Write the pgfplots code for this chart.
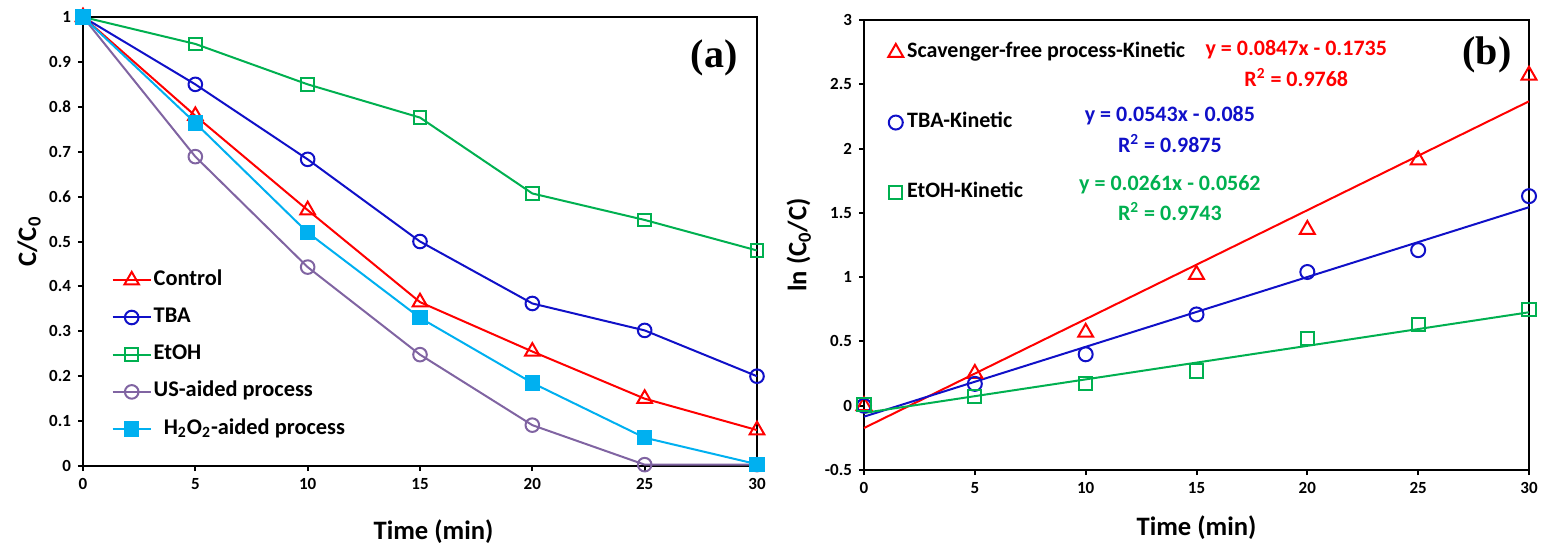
\documentclass[border=0pt]{standalone}
\usepackage{fontspec}
\setmainfont{Carlito}
\newfontfamily\timesb{Liberation Serif}
\usepackage{pgfplots}
\pgfplotsset{compat=1.18}
\definecolor{cred}{RGB}{255,0,0}
\definecolor{cblue}{RGB}{16,16,200}
\definecolor{cgreen}{RGB}{0,176,80}
\definecolor{cpurple}{RGB}{128,100,162}
\definecolor{ccyan}{RGB}{0,176,240}

\pgfplotsset{
  common/.style={
    scale only axis,
    axis line style={line width=1.2pt},
    tick style={line width=1pt,black},
    major tick length=2.5pt,
    tick align=outside,
    xtick pos=left, ytick pos=left,
    xmin=0, xmax=30,
    xtick={0,5,...,30},
    /pgf/number format/assume math mode=true,
    ticklabel style={font=\bfseries\fontsize{8.5}{10}\selectfont},
    label style={font=\bfseries\fontsize{13.3}{15}\selectfont},
    clip=false,
  }
}

\begin{document}
\begin{tikzpicture}
\useasboundingbox (0,0) rectangle (770.5pt,274pt);

% ---- panel (a)
\begin{axis}[common,
  at={(41.5pt,41pt)}, anchor=south west,
  width=337pt, height=224.5pt,
  ymin=0, ymax=1,
  ytick={0,0.1,...,1.01},
  xlabel={Time (min)},
  ylabel={C/C\textsubscript{0}},
  xlabel style={at={(axis description cs:0.52,0)}, anchor=center, yshift=-33pt},
  ylabel style={at={(axis description cs:-0.08,0.5)}, anchor=center},
  legend style={at={(axis description cs:0.042,0.439)}, anchor=north west,
    draw=none, fill=none, inner sep=0pt, row sep=7.6pt, column sep=1pt,
    nodes={inner sep=0pt, text height=8pt, text depth=3pt},
    font=\bfseries\fontsize{11.2}{13}\selectfont},
  legend cell align=left,
  legend image code/.code={\draw[mark repeat=2,mark phase=2,#1]
    plot coordinates {(0pt,0pt) (9.5pt,0pt) (19pt,0pt)};},
  every axis plot/.append style={line width=1pt},
]
\addplot[cred, mark=triangle, mark size=4.2pt, mark options={fill=white,line width=1pt}]
  coordinates {(0,1) (5,0.78) (10,0.57) (15,0.365) (20,0.255) (25,0.15) (30,0.08)};
\addlegendentry{Control}
\addplot[cblue, mark=o, mark size=3.4pt, mark options={fill=white,line width=1pt}]
  coordinates {(0,1) (5,0.85) (10,0.683) (15,0.5) (20,0.362) (25,0.302) (30,0.2)};
\addlegendentry{TBA}
\addplot[cgreen, mark=square, mark size=3.2pt, mark options={fill=white,line width=1pt}]
  coordinates {(0,1) (5,0.94) (10,0.85) (15,0.776) (20,0.607) (25,0.548) (30,0.48)};
\addlegendentry{EtOH}
\addplot[cpurple, mark=o, mark size=3.4pt, mark options={fill=white,line width=1pt}]
  coordinates {(0,1) (5,0.689) (10,0.443) (15,0.248) (20,0.091) (25,0.003) (30,0.003)};
\addlegendentry{US-aided process}
\addplot[ccyan, mark=square*, mark size=3.3pt, mark options={fill=ccyan}]
  coordinates {(0,1) (5,0.764) (10,0.52) (15,0.33) (20,0.185) (25,0.063) (30,0.004)};
\addlegendentry{\ \ H\textsubscript{2}O\textsubscript{2}-aided process}
\node[font=\timesb\bfseries\fontsize{20}{22}\selectfont] at (axis cs:28.1,0.909) {(a)};
\end{axis}

% ---- panel (b)
\begin{axis}[common,
  at={(432pt,39pt)}, anchor=south west,
  width=332.5pt, height=225pt,
  ymin=-0.5, ymax=3,
  ytick={-0.5,0,0.5,1,1.5,2,2.5,3},
  xlabel={Time (min)},
  ylabel={ln (C\textsubscript{0}/C)},
  xlabel style={at={(axis description cs:0.5,0)}, anchor=center, yshift=-29pt},
  ylabel style={at={(axis description cs:-0.098,0.5)}, anchor=center},
  legend style={at={(axis description cs:0.036,0.953)}, anchor=north west,
    draw=none, fill=none, inner sep=0pt, row sep=24pt, column sep=2pt,
    nodes={inner sep=0pt, text height=8pt, text depth=3pt},
    font=\bfseries\fontsize{11}{13}\selectfont},
  legend cell align=left,
  legend image code/.code={\draw[mark repeat=2,mark phase=2,#1]
    plot coordinates {(0pt,0pt) (4pt,0pt) (8pt,0pt)};},
]
% fitted trend lines (from the printed equations)
\addplot[cred, line width=1pt, forget plot] coordinates {(0,-0.1735) (30,2.3675)};
\addplot[cblue, line width=1pt, forget plot] coordinates {(0,-0.085) (30,1.544)};
\addplot[cgreen, line width=1pt, forget plot] coordinates {(0,-0.0562) (30,0.7268)};
\addplot[cred, only marks, mark=triangle, mark size=4.3pt, mark options={line width=1pt}]
  coordinates {(0,0) (5,0.25) (10,0.57) (15,1.02) (20,1.37) (25,1.91) (30,2.57)};
\addlegendentry{Scavenger-free process-Kinetic}
\addplot[cblue, only marks, mark=o, mark size=3.5pt, mark options={line width=1pt}]
  coordinates {(0,0) (5,0.17) (10,0.40) (15,0.71) (20,1.04) (25,1.21) (30,1.63)};
\addlegendentry{TBA-Kinetic}
\addplot[cgreen, only marks, mark=square, mark size=3.3pt, mark options={line width=1pt}]
  coordinates {(0,0.01) (5,0.07) (10,0.17) (15,0.27) (20,0.52) (25,0.63) (30,0.75)};
\addlegendentry{EtOH-Kinetic}
\begin{scope}[every node/.style={font=\bfseries\fontsize{11}{13}\selectfont}]
\node[text=cred] at (axis cs:19.5,2.77) {y = 0.0847x - 0.1735};
\node[text=cred] at (axis cs:19.5,2.55) {R\textsuperscript{2} = 0.9768};
\node[text=cblue] at (axis cs:13.8,2.26) {y = 0.0543x - 0.085};
\node[text=cblue] at (axis cs:13.8,2.04) {R\textsuperscript{2} = 0.9875};
\node[text=cgreen] at (axis cs:13.8,1.72) {y = 0.0261x - 0.0562};
\node[text=cgreen] at (axis cs:13.8,1.51) {R\textsuperscript{2} = 0.9743};
\end{scope}
\node[font=\timesb\bfseries\fontsize{20}{22}\selectfont] at (axis cs:28.1,2.73) {(b)};
\end{axis}
\end{tikzpicture}
\end{document}
